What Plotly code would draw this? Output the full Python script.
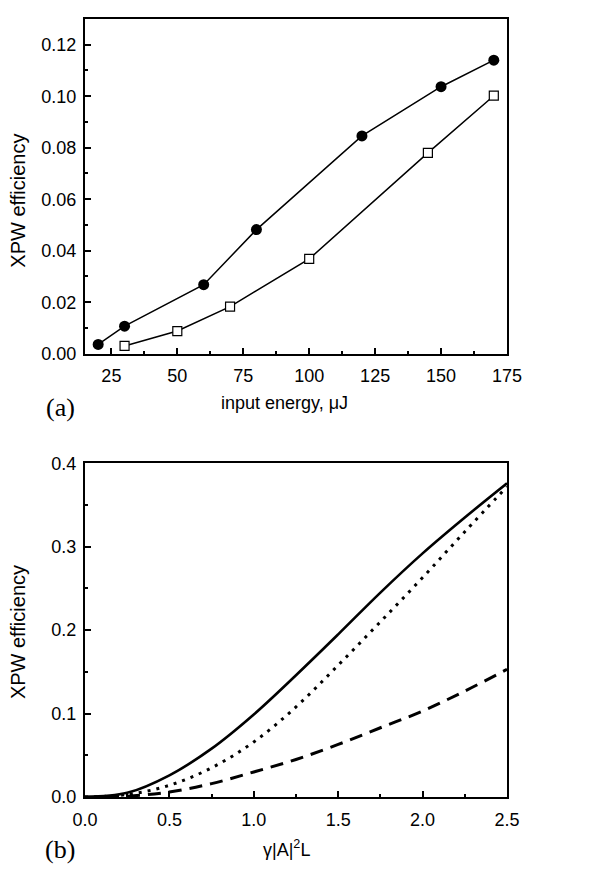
import plotly.graph_objects as go

# ---- panel (a) data ----
energy_filled = [20, 30, 60, 80, 120, 150, 170]
eff_filled = [0.0036, 0.0107, 0.0268, 0.0482, 0.0846, 0.1037, 0.114]
energy_open = [30, 50, 70, 100, 145, 170]
eff_open = [0.0030, 0.0088, 0.0183, 0.0368, 0.0780, 0.1002]

# ---- panel (b) data ----
gal = [0.0, 0.25, 0.5, 0.75, 1.0, 1.25, 1.5, 1.75, 2.0, 2.25, 2.5]
eff_solid = [0.0, 0.005, 0.026, 0.058, 0.099, 0.146, 0.195, 0.245, 0.292, 0.335, 0.376]
eff_dotted = [0.0, 0.003, 0.014, 0.035, 0.066, 0.108, 0.158, 0.210, 0.263, 0.318, 0.372]
eff_dashed = [0.0, 0.001, 0.006, 0.016, 0.030, 0.045, 0.063, 0.083, 0.103, 0.127, 0.153]

W, H = 603, 869
L, R, T, B = 85, 507, 9, 797
PW, PH = R - L, B - T

def px(x):
    return (x - L) / PW

def py(y):
    return (B - y) / PH

fig = go.Figure()

fig.add_trace(go.Scatter(x=energy_filled, y=eff_filled, mode="lines+markers",
                         line=dict(color="black", width=1.5),
                         marker=dict(symbol="circle", size=11, color="black"),
                         xaxis="x", yaxis="y", showlegend=False))
fig.add_trace(go.Scatter(x=energy_open, y=eff_open, mode="lines+markers",
                         line=dict(color="black", width=1.5),
                         marker=dict(symbol="square", size=9, color="white",
                                     line=dict(color="black", width=1.2)),
                         xaxis="x", yaxis="y", showlegend=False))

fig.add_trace(go.Scatter(x=gal, y=eff_dashed, mode="lines", line_shape="spline",
                         line=dict(color="black", width=3, dash="13px,8px"),
                         xaxis="x2", yaxis="y2", showlegend=False))
fig.add_trace(go.Scatter(x=gal, y=eff_dotted, mode="lines", line_shape="spline",
                         line=dict(color="black", width=3, dash="3px,6px"),
                         xaxis="x2", yaxis="y2", showlegend=False))
fig.add_trace(go.Scatter(x=gal, y=eff_solid, mode="lines", line_shape="spline",
                         line=dict(color="black", width=2.6),
                         xaxis="x2", yaxis="y2", showlegend=False))

sans = "Liberation Sans, Arial"
tickfont = dict(family=sans, size=18, color="black")
axcommon = dict(showline=True, linecolor="black", linewidth=2, mirror=True,
                ticks="inside", ticklen=6, tickwidth=1.5, tickcolor="black",
                showgrid=False, zeroline=False, tickfont=tickfont)

top_dom = [py(348), 1.0]
bot_dom = [0.0, py(459)]

fig.update_layout(
    width=W, height=H,
    margin=dict(l=L, r=W - R, t=T, b=H - B),
    paper_bgcolor="white", plot_bgcolor="white",
    xaxis=dict(range=[15, 175], tickvals=[25, 50, 75, 100, 125, 150, 175],
               ticklabelstandoff=5,
               minor=dict(ticks="inside", ticklen=3, tickcolor="black", dtick=12.5, tick0=12.5),
               anchor="y", **axcommon),
    yaxis=dict(range=[0, 0.13], domain=top_dom, tickvals=[0, 0.02, 0.04, 0.06, 0.08, 0.10, 0.12],
               tickformat=".2f", ticklabelstandoff=3,
               minor=dict(ticks="inside", ticklen=3, tickcolor="black", dtick=0.01, tick0=0),
               anchor="x", **axcommon),
    xaxis2=dict(range=[0, 2.5], tickvals=[0, 0.5, 1.0, 1.5, 2.0, 2.5], tickformat=".1f",
                ticklabelstandoff=5,
                minor=dict(ticks="inside", ticklen=3, tickcolor="black", dtick=0.25, tick0=0),
                anchor="y2", **axcommon),
    yaxis2=dict(range=[0, 0.4], domain=bot_dom, tickvals=[0, 0.1, 0.2, 0.3, 0.4], tickformat=".1f",
                ticklabelstandoff=3,
                minor=dict(ticks="inside", ticklen=3, tickcolor="black", dtick=0.05, tick0=0),
                anchor="x2", **axcommon),
)

titlefont = dict(family=sans, size=18, color="black")
ytitlefont = dict(family=sans, size=20, color="black")
labfont = dict(family="Liberation Serif, Times New Roman", size=26, color="black")

annos = [
    dict(text="input energy, μJ", x=px(284), y=py(398), font=titlefont),
    dict(text="γ|A|<sup>2</sup>L", x=px(286), y=py(849), font=titlefont),
    dict(text="XPW efficiency", x=px(18), y=py(193), font=ytitlefont, textangle=-90),
    dict(text="XPW efficiency", x=px(18), y=py(630), font=ytitlefont, textangle=-90),
    dict(text="(a)", x=px(60), y=py(402), font=labfont),
    dict(text="(b)", x=px(60), y=py(850), font=labfont),
]
for a in annos:
    fig.add_annotation(xref="paper", yref="paper", showarrow=False,
                       xanchor="center", yanchor="middle", **a)

fig.write_html("out.html", config={"displayModeBar": False},
               post_script="document.body.style.margin='0px';")
